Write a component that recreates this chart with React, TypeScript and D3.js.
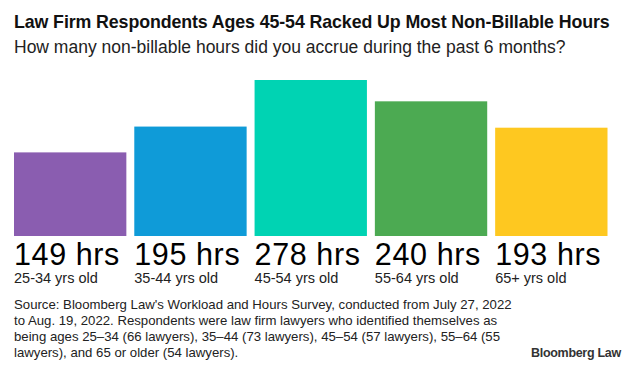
import * as d3 from "d3";

const ageGroups = ["25-34 yrs old", "35-44 yrs old", "45-54 yrs old", "55-64 yrs old", "65+ yrs old"];
const hours = [149, 195, 278, 240, 193];
const barColors = ["#8a5db0", "#0f9bd8", "#00d3b3", "#4caa52", "#fec820"];

const title = "Law Firm Respondents Ages 45-54 Racked Up Most Non-Billable Hours";
const subtitle = "How many non-billable hours did you accrue during the past 6 months?";
const sourceLines = [
  "Source: Bloomberg Law's Workload and Hours Survey, conducted from July 27, 2022",
  "to Aug. 19, 2022. Respondents were law firm lawyers who identified themselves as",
  "being ages 25–34 (66 lawyers), 35–44 (73 lawyers), 45–54 (57 lawyers), 55–64 (55",
  "lawyers), and 65 or older (54 lawyers).",
];

const width = 633;
const height = 368;
const font = "'Liberation Sans', Arial, sans-serif";

const App = () => {
  const x = d3
    .scaleBand<string>()
    .domain(ageGroups)
    .range([14, 607.5])
    .paddingInner(0.066)
    .paddingOuter(0);
  const y = d3.scaleLinear().domain([0, 278]).range([236, 80]);

  return (
    <>
      <style>{`body{margin:0}`}</style>
      <svg width={width} height={height} style={{ display: "block", fontFamily: font }}>
        <rect width={width} height={height} fill="#ffffff" />
        <text x={14} y={28} fontSize={17.8} fontWeight="bold" fill="#111" letterSpacing={-0.1}>
          {title}
        </text>
        <text x={14} y={53} fontSize={17.5} fill="#222">
          {subtitle}
        </text>

        {ageGroups.map((g, i) => (
          <g key={g}>
            <rect
              x={x(g)}
              y={y(hours[i])}
              width={x.bandwidth()}
              height={y(0) - y(hours[i])}
              fill={barColors[i]}
            />
            <text x={x(g)} y={265} fontSize={30.5} letterSpacing={0.6} fill="#000">
              {hours[i]} hrs
            </text>
            <text x={x(g)} y={283} fontSize={14.5} fill="#222">
              {g}
            </text>
          </g>
        ))}

        {sourceLines.map((line, i) => (
          <text key={i} x={14} y={309 + i * 16} fontSize={13.2} fill="#222">
            {line}
          </text>
        ))}
        <text x={531} y={357} fontSize={12.5} fontWeight="bold" fill="#333" letterSpacing={-0.3}>
          Bloomberg Law
        </text>
      </svg>
    </>
  );
};

export default App;
